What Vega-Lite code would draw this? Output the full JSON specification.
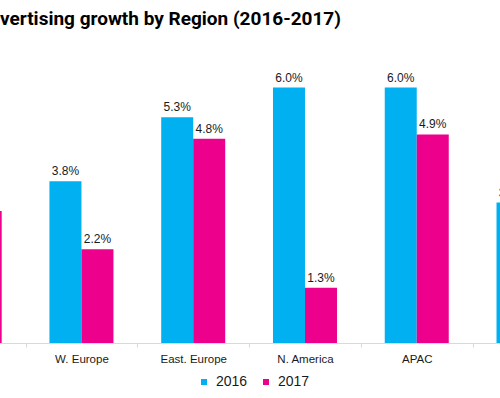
{
  "$schema": "https://vega.github.io/schema/vega-lite/v6.json",
  "autosize": "none",
  "width": 500,
  "height": 298,
  "padding": {"left": 0, "top": 45, "right": 0, "bottom": 55},
  "background": "white",
  "title": {
    "text": "vertising growth by Region (2016-2017)",
    "anchor": "start",
    "frame": "group",
    "font": "Roboto",
    "fontWeight": "bold",
    "fontSize": 19,
    "color": "#000000",
    "offset": 16,
    "dx": 0
  },
  "data": {
    "values": [
      {"region": "Global", "year": "2017", "value": 0.031},
      {"region": "W. Europe", "year": "2016", "value": 0.038},
      {"region": "W. Europe", "year": "2017", "value": 0.022},
      {"region": "East. Europe", "year": "2016", "value": 0.053},
      {"region": "East. Europe", "year": "2017", "value": 0.048},
      {"region": "N. America", "year": "2016", "value": 0.060},
      {"region": "N. America", "year": "2017", "value": 0.013},
      {"region": "APAC", "year": "2016", "value": 0.060},
      {"region": "APAC", "year": "2017", "value": 0.049},
      {"region": "LATAM", "year": "2016", "value": 0.033}
    ]
  },
  "encoding": {
    "x": {
      "field": "region",
      "type": "nominal",
      "sort": ["Global", "W. Europe", "East. Europe", "N. America", "APAC", "LATAM"],
      "scale": {
        "domain": ["Global", "W. Europe", "East. Europe", "N. America", "APAC", "LATAM"],
        "range": [-86.2, 584.4],
        "paddingInner": 0,
        "paddingOuter": 0
      },
      "axis": {
        "title": null,
        "labelAngle": 0,
        "labelFont": "Liberation Sans",
        "labelFontSize": 11.5,
        "labelColor": "#1a1a1a",
        "labelPadding": 6,
        "domainColor": "#d9d9d9",
        "tickColor": "#d9d9d9",
        "tickSize": 4,
        "tickBand": "extent",
        "grid": false
      }
    },
    "xOffset": {
      "field": "year",
      "type": "nominal",
      "scale": {"domain": ["2016", "2017"], "paddingInner": 0, "paddingOuter": 0.746}
    },
    "y": {
      "field": "value",
      "type": "quantitative",
      "scale": {"domain": [0, 0.07], "nice": false, "zero": true},
      "axis": null
    }
  },
  "layer": [
    {
      "mark": {"type": "bar"},
      "encoding": {
        "color": {
          "field": "year",
          "type": "nominal",
          "scale": {"domain": ["2016", "2017"], "range": ["#00B0F0", "#EC008C"]},
          "legend": {
            "title": null,
            "orient": "none",
            "direction": "horizontal",
            "legendX": 197,
            "legendY": 330,
            "symbolType": "square",
            "symbolSize": 36,
            "symbolStrokeWidth": 0,
            "labelFont": "Liberation Sans",
            "labelFontSize": 14,
            "labelColor": "#1a1a1a",
            "labelOffset": 5,
            "columnPadding": 11
          }
        }
      }
    },
    {
      "mark": {
        "type": "text",
        "baseline": "alphabetic",
        "dy": -6,
        "font": "Liberation Sans",
        "fontSize": 12,
        "color": "#1a1a1a"
      },
      "encoding": {
        "text": {"field": "value", "type": "quantitative", "format": ".1%"}
      }
    }
  ],
  "config": {
    "view": {"stroke": null},
    "style": {"cell": {"stroke": null}}
  }
}
